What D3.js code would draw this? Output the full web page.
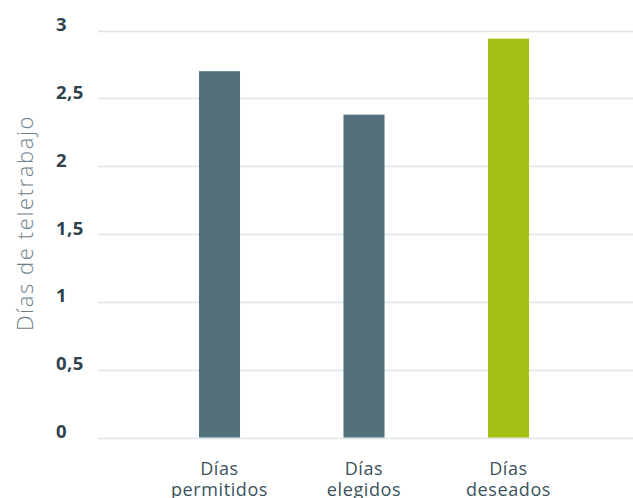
<!DOCTYPE html>
<html>
<head>
<meta charset="utf-8">
<script src="https://cdn.jsdelivr.net/npm/d3@7"></script>
<style>
  html, body { margin: 0; padding: 0; background: #fff; }
  svg { display: block; }
</style>
</head>
<body>
<svg id="chart" width="633" height="498"></svg>
<script>
const categories = ["Días permitidos", "Días elegidos", "Días deseados"];
const values = [2.70, 2.38, 2.94];
const barColors = ["#52717d", "#52717d", "#a5be13"];
const yTicks = [0, 0.5, 1, 1.5, 2, 2.5, 3];
const yTickLabels = ["0", "0,5", "1", "1,5", "2", "2,5", "3"];
const yTitle = "Días de teletrabajo";

const svg = d3.select("#chart");
const gridLeft = 98, gridRight = 633;
const FONT = "'Open Sans', 'Noto Sans', sans-serif";

const y = d3.scaleLinear().domain([0, 3]).range([437.5, 30.5]);
const x = d3.scaleBand().domain(categories).range([147.25, 580.75])
  .paddingInner(0.716).paddingOuter(0.358);

// gridlines
svg.append("g").selectAll("line").data(yTicks).join("line")
  .attr("x1", gridLeft).attr("x2", gridRight)
  .attr("y1", d => Math.round(y(d)) + 0.5).attr("y2", d => Math.round(y(d)) + 0.5)
  .attr("stroke", "#dde3e6").attr("stroke-width", 1.5);

// y tick labels
svg.append("g").selectAll("text").data(yTicks).join("text")
  .attr("x", 56).attr("y", d => y(d) + 0.5)
  .attr("font-family", FONT)
  .attr("font-weight", 700).attr("font-size", 18.5)
  .attr("letter-spacing", 0.5)
  .attr("fill", "#2f434d")
  .text((d, i) => yTickLabels[i]);

// bars
svg.append("g").selectAll("rect").data(values).join("rect")
  .attr("x", (d, i) => x(categories[i]))
  .attr("width", x.bandwidth())
  .attr("y", d => y(d))
  .attr("height", d => y(0) - y(d))
  .attr("fill", (d, i) => barColors[i]);

// x labels (two lines each)
const xg = svg.append("g");
categories.forEach(d => {
  const parts = d.split(" ");
  const cx = x(d) + x.bandwidth() / 2;
  [parts[0], parts.slice(1).join(" ")].forEach((line, j) => {
    xg.append("text")
      .attr("x", cx).attr("y", 475 + j * 21)
      .attr("text-anchor", "middle")
      .attr("font-family", FONT)
      .attr("font-weight", 500).attr("font-size", 18)
      .attr("letter-spacing", 0.6)
      .attr("fill", "#3b525c")
      .text(line);
  });
});

// y title
svg.append("text")
  .attr("transform", "translate(33,223) rotate(-90)")
  .attr("text-anchor", "middle")
  .attr("font-family", FONT)
  .attr("font-weight", 300).attr("font-size", 22)
  .attr("letter-spacing", 1.6)
  .attr("fill", "#6e8089")
  .text(yTitle);
</script>
</body>
</html>
